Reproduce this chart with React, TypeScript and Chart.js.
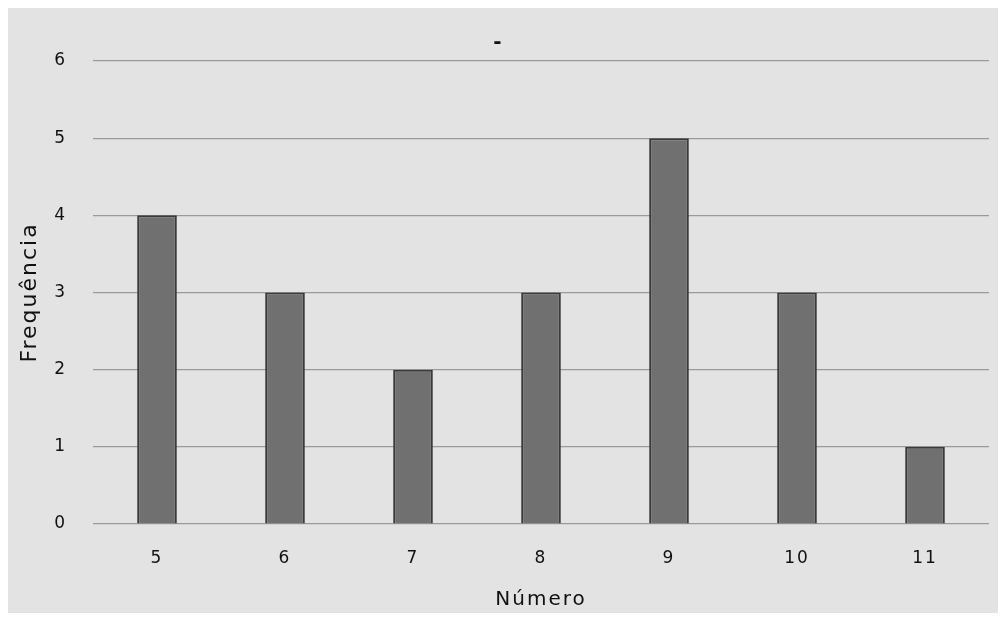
import React, { useEffect, useRef } from "react";
import { Chart, registerables } from "chart.js";

Chart.register(...registerables);

const categories = ["5", "6", "7", "8", "9", "10", "11"];
const frequencies = [4, 3, 2, 3, 5, 3, 1];
const chartTitle = "-";
const xTitle = "Número";
const yTitle = "Frequência";

const spacingPlugin = {
  id: "spacing",
  beforeDraw(chart: any) {
    chart.ctx.letterSpacing = "2px";
  },
};

export default function App() {
  const ref = useRef<HTMLCanvasElement | null>(null);
  useEffect(() => {
    if (!ref.current) return;
    const chart = new Chart(ref.current, {
      type: "bar",
      data: {
        labels: categories,
        datasets: [
          {
            data: frequencies,
            backgroundColor: "#707070",
            borderColor: "#3a3a3a",
            borderWidth: 2,
            barPercentage: 0.31,
            categoryPercentage: 1,
          },
        ],
      },
      plugins: [spacingPlugin],
      options: {
        animation: false,
        responsive: false,
        devicePixelRatio: 1,
        layout: { padding: { left: 0, right: 9, top: 0, bottom: 0 } },
        plugins: {
          legend: { display: false },
          tooltip: { enabled: false },
          title: {
            display: true,
            text: chartTitle,
            color: "#111",
            font: { family: "DejaVu Sans", size: 20, weight: "bold" },
            padding: { top: 23, bottom: 6 },
          },
        },
        scales: {
          x: {
            grid: { display: false, drawTicks: false },
            border: { display: false },
            ticks: {
              color: "#111",
              padding: 24,
              font: { family: "DejaVu Sans", size: 17 },
            },
            title: {
              display: true,
              text: xTitle,
              color: "#111",
              font: { family: "DejaVu Sans", size: 20 },
              padding: { top: 0, bottom: 1 },
            },
            afterFit(scale: any) {
              scale.height = 89;
            },
          },
          y: {
            min: 0,
            max: 6,
            grid: { color: "#9a9a9a", lineWidth: 1.2, drawTicks: false },
            border: { display: false },
            ticks: {
              stepSize: 1,
              color: "#111",
              padding: 26,
              font: { family: "DejaVu Sans", size: 17 },
            },
            title: {
              display: true,
              text: yTitle,
              color: "#111",
              font: { family: "DejaVu Sans", size: 22 },
              padding: { top: 9, bottom: 0 },
            },
            afterFit(scale: any) {
              scale.width = 85;
            },
          },
        },
      },
    });
    return () => chart.destroy();
  }, []);
  return (
    <div style={{ width: 990, height: 605, background: "#e3e3e3" }}>
      <canvas ref={ref} width={990} height={605} style={{ display: "block" }} />
    </div>
  );
}
